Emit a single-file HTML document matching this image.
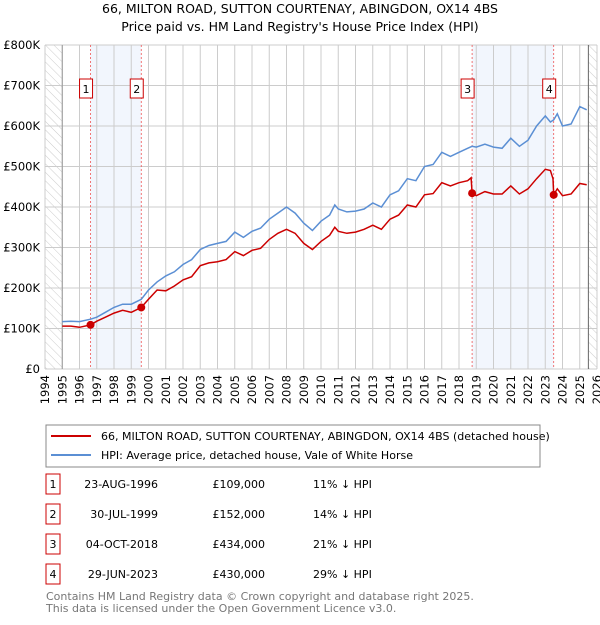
<!DOCTYPE html>
<html><head><meta charset="utf-8"><style>
body{margin:0;background:#fff;font-family:"Liberation Sans","DejaVu Sans",sans-serif;}
svg text{font-family:"DejaVu Sans","Liberation Sans",sans-serif;}
</style></head><body>
<svg id="c" width="600" height="620" viewBox="0 0 600 620" xmlns="http://www.w3.org/2000/svg">
<defs><pattern id="hatch" width="6" height="6" patternUnits="userSpaceOnUse" patternTransform="rotate(-45)"><line x1="0" y1="0" x2="0" y2="6" stroke="#ccc" stroke-width="1"/></pattern></defs>
<text x="300" y="13" text-anchor="middle" font-size="12.5">66, MILTON ROAD, SUTTON COURTENAY, ABINGDON, OX14 4BS</text>
<text x="300" y="31" text-anchor="middle" font-size="12.5">Price paid vs. HM Land Registry's House Price Index (HPI)</text>
<g id="plot"></g>
<rect x="46" y="425" width="494" height="42" fill="#fff" stroke="#888"/>
<line x1="51" y1="436" x2="91" y2="436" stroke="#cc0000" stroke-width="2"/>
<text x="101" y="440" font-size="11">66, MILTON ROAD, SUTTON COURTENAY, ABINGDON, OX14 4BS (detached house)</text>
<line x1="51" y1="455" x2="91" y2="455" stroke="#5b8fd4" stroke-width="2"/>
<text x="101" y="459" font-size="11">HPI: Average price, detached house, Vale of White Horse</text>
<g id="tbl"></g>
<text x="46" y="600" font-size="11" fill="#777">Contains HM Land Registry data © Crown copyright and database right 2025.</text>
<text x="46" y="612" font-size="11" fill="#777">This data is licensed under the Open Government Licence v3.0.</text>
</svg>
<script>
const hpiT=[1995,1995.5,1996,1996.64,1997,1997.5,1998,1998.5,1999,1999.58,2000,2000.5,2001,2001.5,2002,2002.5,2003,2003.5,2004,2004.5,2005,2005.5,2006,2006.5,2007,2007.5,2008,2008.5,2009,2009.5,2010,2010.5,2010.8,2011,2011.5,2012,2012.5,2013,2013.5,2014,2014.5,2015,2015.5,2016,2016.5,2017,2017.5,2018,2018.5,2018.76,2019,2019.5,2020,2020.5,2021,2021.5,2022,2022.5,2023,2023.3,2023.49,2023.7,2024,2024.5,2025,2025.4];
const hpiV=[117,118,117,123,128,140,152,160,160,172,195,215,230,240,258,270,295,305,310,315,338,325,340,348,370,385,400,385,360,342,365,380,405,395,388,390,395,410,400,430,440,470,465,500,505,535,525,535,545,550,548,555,548,545,570,550,565,600,625,610,615,630,600,605,648,640];
const priceT=[1995,1995.5,1996,1996.64,1997,1997.5,1998,1998.5,1999,1999.58,2000,2000.5,2001,2001.5,2002,2002.5,2003,2003.5,2004,2004.5,2005,2005.5,2006,2006.5,2007,2007.5,2008,2008.5,2009,2009.5,2010,2010.5,2010.8,2011,2011.5,2012,2012.5,2013,2013.5,2014,2014.5,2015,2015.5,2016,2016.5,2017,2017.5,2018,2018.5,2018.7,2018.76,2019,2019.5,2020,2020.5,2021,2021.5,2022,2022.5,2023,2023.3,2023.45,2023.49,2023.7,2024,2024.5,2025,2025.4];
const priceV=[106,106,103,109,118,128,138,145,140,152,172,195,193,205,220,228,255,262,265,270,290,280,293,298,320,335,345,335,310,295,315,330,350,340,335,338,345,355,345,370,380,405,400,430,433,460,452,460,465,472,434,428,438,432,432,452,432,445,470,493,490,470,430,445,428,432,458,455];
const saleT=[1996.64,1999.58,2018.76,2023.49];
const saleV=[109,152,434,430];
const saleLabels=["1","2","3","4"];
const saleDates=["23-AUG-1996","30-JUL-1999","04-OCT-2018","29-JUN-2023"];
const salePrices=["£109,000","£152,000","£434,000","£430,000"];
const saleHpi=["11% ↓ HPI","14% ↓ HPI","21% ↓ HPI","29% ↓ HPI"];
const yTicks=[0,100,200,300,400,500,600,700,800];
const yTickLabels=["£0","£100K","£200K","£300K","£400K","£500K","£600K","£700K","£800K"];
const xYears=[1994,1995,1996,1997,1998,1999,2000,2001,2002,2003,2004,2005,2006,2007,2008,2009,2010,2011,2012,2013,2014,2015,2016,2017,2018,2019,2020,2021,2022,2023,2024,2025,2026];

const X0=45,X1=597,Y0=369,Y1=45;
const x=t=>X0+(t-1994)/32*(X1-X0);
const y=v=>Y0-v/800*(Y0-Y1);
const NS="http://www.w3.org/2000/svg";
const plot=document.getElementById('plot');
function mk(tag,a,p){const e=document.createElementNS(NS,tag);for(const k in a)e.setAttribute(k,a[k]);(p||plot).appendChild(e);return e;}

mk('rect',{x:X0,y:Y1,width:x(1995)-X0,height:Y0-Y1,fill:'url(#hatch)'});
mk('rect',{x:x(2025.5),y:Y1,width:X1-x(2025.5),height:Y0-Y1,fill:'url(#hatch)'});
for(let i=0;i<saleT.length;i+=2){
  const r=mk('rect',{x:x(saleT[i]),y:Y1,width:x(saleT[i+1])-x(saleT[i]),height:Y0-Y1,fill:'#eef3fc',opacity:0.75});
  
  
}
xYears.forEach(yr=>{mk('line',{x1:x(yr),x2:x(yr),y1:Y1,y2:Y0,stroke:'#ccc','stroke-width':1});
  const t=mk('text',{x:0,y:0,'font-size':11.5,'text-anchor':'end',transform:`translate(${x(yr)+4},${Y0+6}) rotate(-90)`});t.textContent=yr;
  
  });
yTicks.forEach((v,i)=>{mk('line',{x1:X0,x2:X1,y1:y(v),y2:y(v),stroke:'#ccc','stroke-width':1});
  const t=mk('text',{x:40,y:y(v)+4,'font-size':11.5,'text-anchor':'end'});t.textContent=yTickLabels[i];
  
  });
mk('line',{x1:x(1995),x2:x(1995),y1:Y1,y2:Y0,stroke:'#999'});
mk('line',{x1:x(2025.5),x2:x(2025.5),y1:Y1,y2:Y0,stroke:'#666'});
saleT.forEach(t=>mk('line',{x1:x(t),x2:x(t),y1:Y1,y2:Y0,stroke:'#e55','stroke-dasharray':'2,2','stroke-width':0.8}));
const pts=(T,V)=>T.map((t,i)=>x(t).toFixed(1)+','+y(V[i]).toFixed(1)).join(' ');
const hl=mk('polyline',{points:pts(hpiT,hpiV),fill:'none',stroke:'#5b8fd4','stroke-width':1.5});


const pl=mk('polyline',{points:pts(priceT,priceV),fill:'none',stroke:'#cc0000','stroke-width':1.5});


saleT.forEach((t,i)=>{
  const d=mk('circle',{cx:x(t),cy:y(saleV[i]),r:4,fill:'#cc0000'});
  
  
  const bx=x(t)-(i%2==0?10:10)-(t>2018&&i==2?0:0);
  const g=mk('rect',{x:x(t)-11,y:79,width:13,height:19,fill:'#fff',stroke:'#cc0000'});
  
  
  const tx=mk('text',{x:x(t)-4.5,y:93,'font-size':11,'text-anchor':'middle'});tx.textContent=saleLabels[i];
});
const tbl=document.getElementById('tbl');
saleLabels.forEach((l,i)=>{
  const yy=483+i*30;
  const r=mk('rect',{x:46,y:yy-9,width:14,height:20,fill:'#fff',stroke:'#cc0000'},tbl);
  
  
  const a=mk('text',{x:53,y:yy+5,'font-size':11,'text-anchor':'middle'},tbl);a.textContent=l;
  const b=mk('text',{x:158,y:yy+5,'font-size':11,'text-anchor':'end'},tbl);b.textContent=saleDates[i];
  
  
  const c=mk('text',{x:265,y:yy+5,'font-size':11,'text-anchor':'end'},tbl);c.textContent=salePrices[i];
  
  
  const d=mk('text',{x:313,y:yy+5,'font-size':11},tbl);d.textContent=saleHpi[i];
  
  
});
</script>
</body></html>
